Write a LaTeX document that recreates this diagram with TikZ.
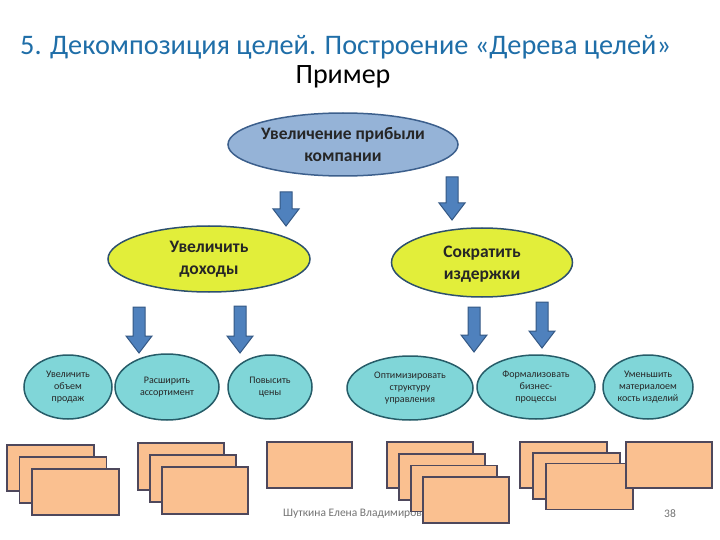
\documentclass[tikz,border=0pt]{standalone}
\usepackage{fontspec}
\setmainfont{Carlito}
\usetikzlibrary{shapes.geometric}
\usetikzlibrary{positioning}

\definecolor{titleblue}{RGB}{31,110,168}
\definecolor{topfill}{RGB}{149,179,215}
\definecolor{topdraw}{RGB}{60,95,140}
\definecolor{yelfill}{RGB}{226,238,58}
\definecolor{yeldraw}{RGB}{45,80,110}
\definecolor{cyanfill}{RGB}{128,214,216}
\definecolor{cyandraw}{RGB}{38,92,104}
\definecolor{arrfill}{RGB}{79,129,189}
\definecolor{arrdraw}{RGB}{52,88,132}
\definecolor{cardfill}{RGB}{250,192,144}
\definecolor{carddraw}{RGB}{78,72,92}

\tikzset{
  maingoal/.style={ellipse, draw=topdraw, fill=topfill, line width=1.5pt, inner sep=0pt},
  subgoal/.style={ellipse, draw=yeldraw, fill=yelfill, line width=1.5pt, inner sep=0pt},
  task/.style={ellipse, draw=cyandraw, fill=cyanfill, line width=1.5pt, inner sep=0pt},
  bigtext/.style={align=center, font=\fontsize{17.5}{22}\selectfont\bfseries, text=black!85},
  smalltext/.style={align=center, font=\fontsize{10}{12}\selectfont, text=black!85},
  blockarr/.style={draw=arrdraw, fill=arrfill, line width=1pt},
  card/.style={draw=carddraw, fill=cardfill, line width=1.6pt},
  pics/downarrow/.style={code={
    \draw[blockarr] (-6,0) -- (6,0) -- (6,{#1-17}) -- (13,{#1-17}) -- (0,#1)
      -- (-13,{#1-17}) -- (-6,{#1-17}) -- cycle;
  }},
}

\begin{document}
\begin{tikzpicture}[x=1pt,y=-1pt]
\useasboundingbox (0,0) rectangle (720,540);

% title
\node [anchor=west, inner sep=0pt, text=titleblue, font=\fontsize{28.3}{32}\selectfont] (title) at (20,47)
  {5. Декомпозиция целей. Построение «Дерева целей»};
\node [inner sep=0pt, font=\fontsize{28}{32}\selectfont] (example) at (343,77) {Пример};

% goal tree
\node [maingoal, minimum width=230pt, minimum height=63pt,
  label={[bigtext]center:Увеличение прибыли\\компании}] (goal) at (343,144.5) {};

\pic at (286,192) {downarrow=34};
\pic at (452,177) {downarrow=43};

\node [subgoal, minimum width=202pt, minimum height=66pt,
  label={[bigtext]center:Увеличить\\доходы}] (income) at (209,259) {};
\node [subgoal, minimum width=181pt, minimum height=69pt,
  label={[bigtext, yshift=-2pt]center:Сократить\\издержки}] (costs) at (482,262.5) {};

\pic at (139,307) {downarrow=46};
\pic at (240,306) {downarrow=47};
\pic at (474,307) {downarrow=45};
\pic at (542,302) {downarrow=46};

\node [task, minimum width=88pt, minimum height=64pt,
  label={[smalltext]center:Увеличить\\объем\\продаж}] (t1) at (68,387) {};
\node [task, minimum width=104pt, minimum height=66pt,
  label={[smalltext]center:Расширить\\ассортимент}] (t2) at (167,387) {};
\node [task, minimum width=84pt, minimum height=64pt,
  label={[smalltext]center:Повысить\\цены}] (t3) at (270,387) {};
\node [task, minimum width=126pt, minimum height=64pt,
  label={[smalltext]center:Оптимизировать\\структуру\\управления}] (t4) at (410,388) {};
\node [task, minimum width=118pt, minimum height=64pt,
  label={[smalltext]center:Формализовать\\бизнес-\\процессы}] (t5) at (536,387) {};
\node [task, minimum width=90pt, minimum height=64pt,
  label={[smalltext]center:Уменьшить\\материалоем\\кость изделий}] (t6) at (648,387) {};

% footer
\node [anchor=west, inner sep=0pt, text=black!55, font=\fontsize{11.5}{13}\selectfont] (author) at (283,514)
  {Шуткина Елена Владимировна};
\node [inner sep=0pt, text=black!55, font=\fontsize{11.5}{13}\selectfont] (page) at (670,514) {38};

% measures
\foreach \i in {0,1,2}
  \draw [card] (7+12.5*\i,445+12*\i) rectangle ++(87,46);
\foreach \i in {0,1,2}
  \draw [card] (138+12*\i,443+12*\i) rectangle ++(86,47);
\draw [card] (267,442) rectangle ++(85,46);
\foreach \i in {0,1,2,3}
  \draw [card] (387+12*\i,442+11.7*\i) rectangle ++(86,46);
\foreach \i in {0,1,2}
  \draw [card] (520+13*\i,442+10.7*\i) rectangle ++(87,46);
\draw [card] (626,442) rectangle ++(86,46);

\end{tikzpicture}
\end{document}
